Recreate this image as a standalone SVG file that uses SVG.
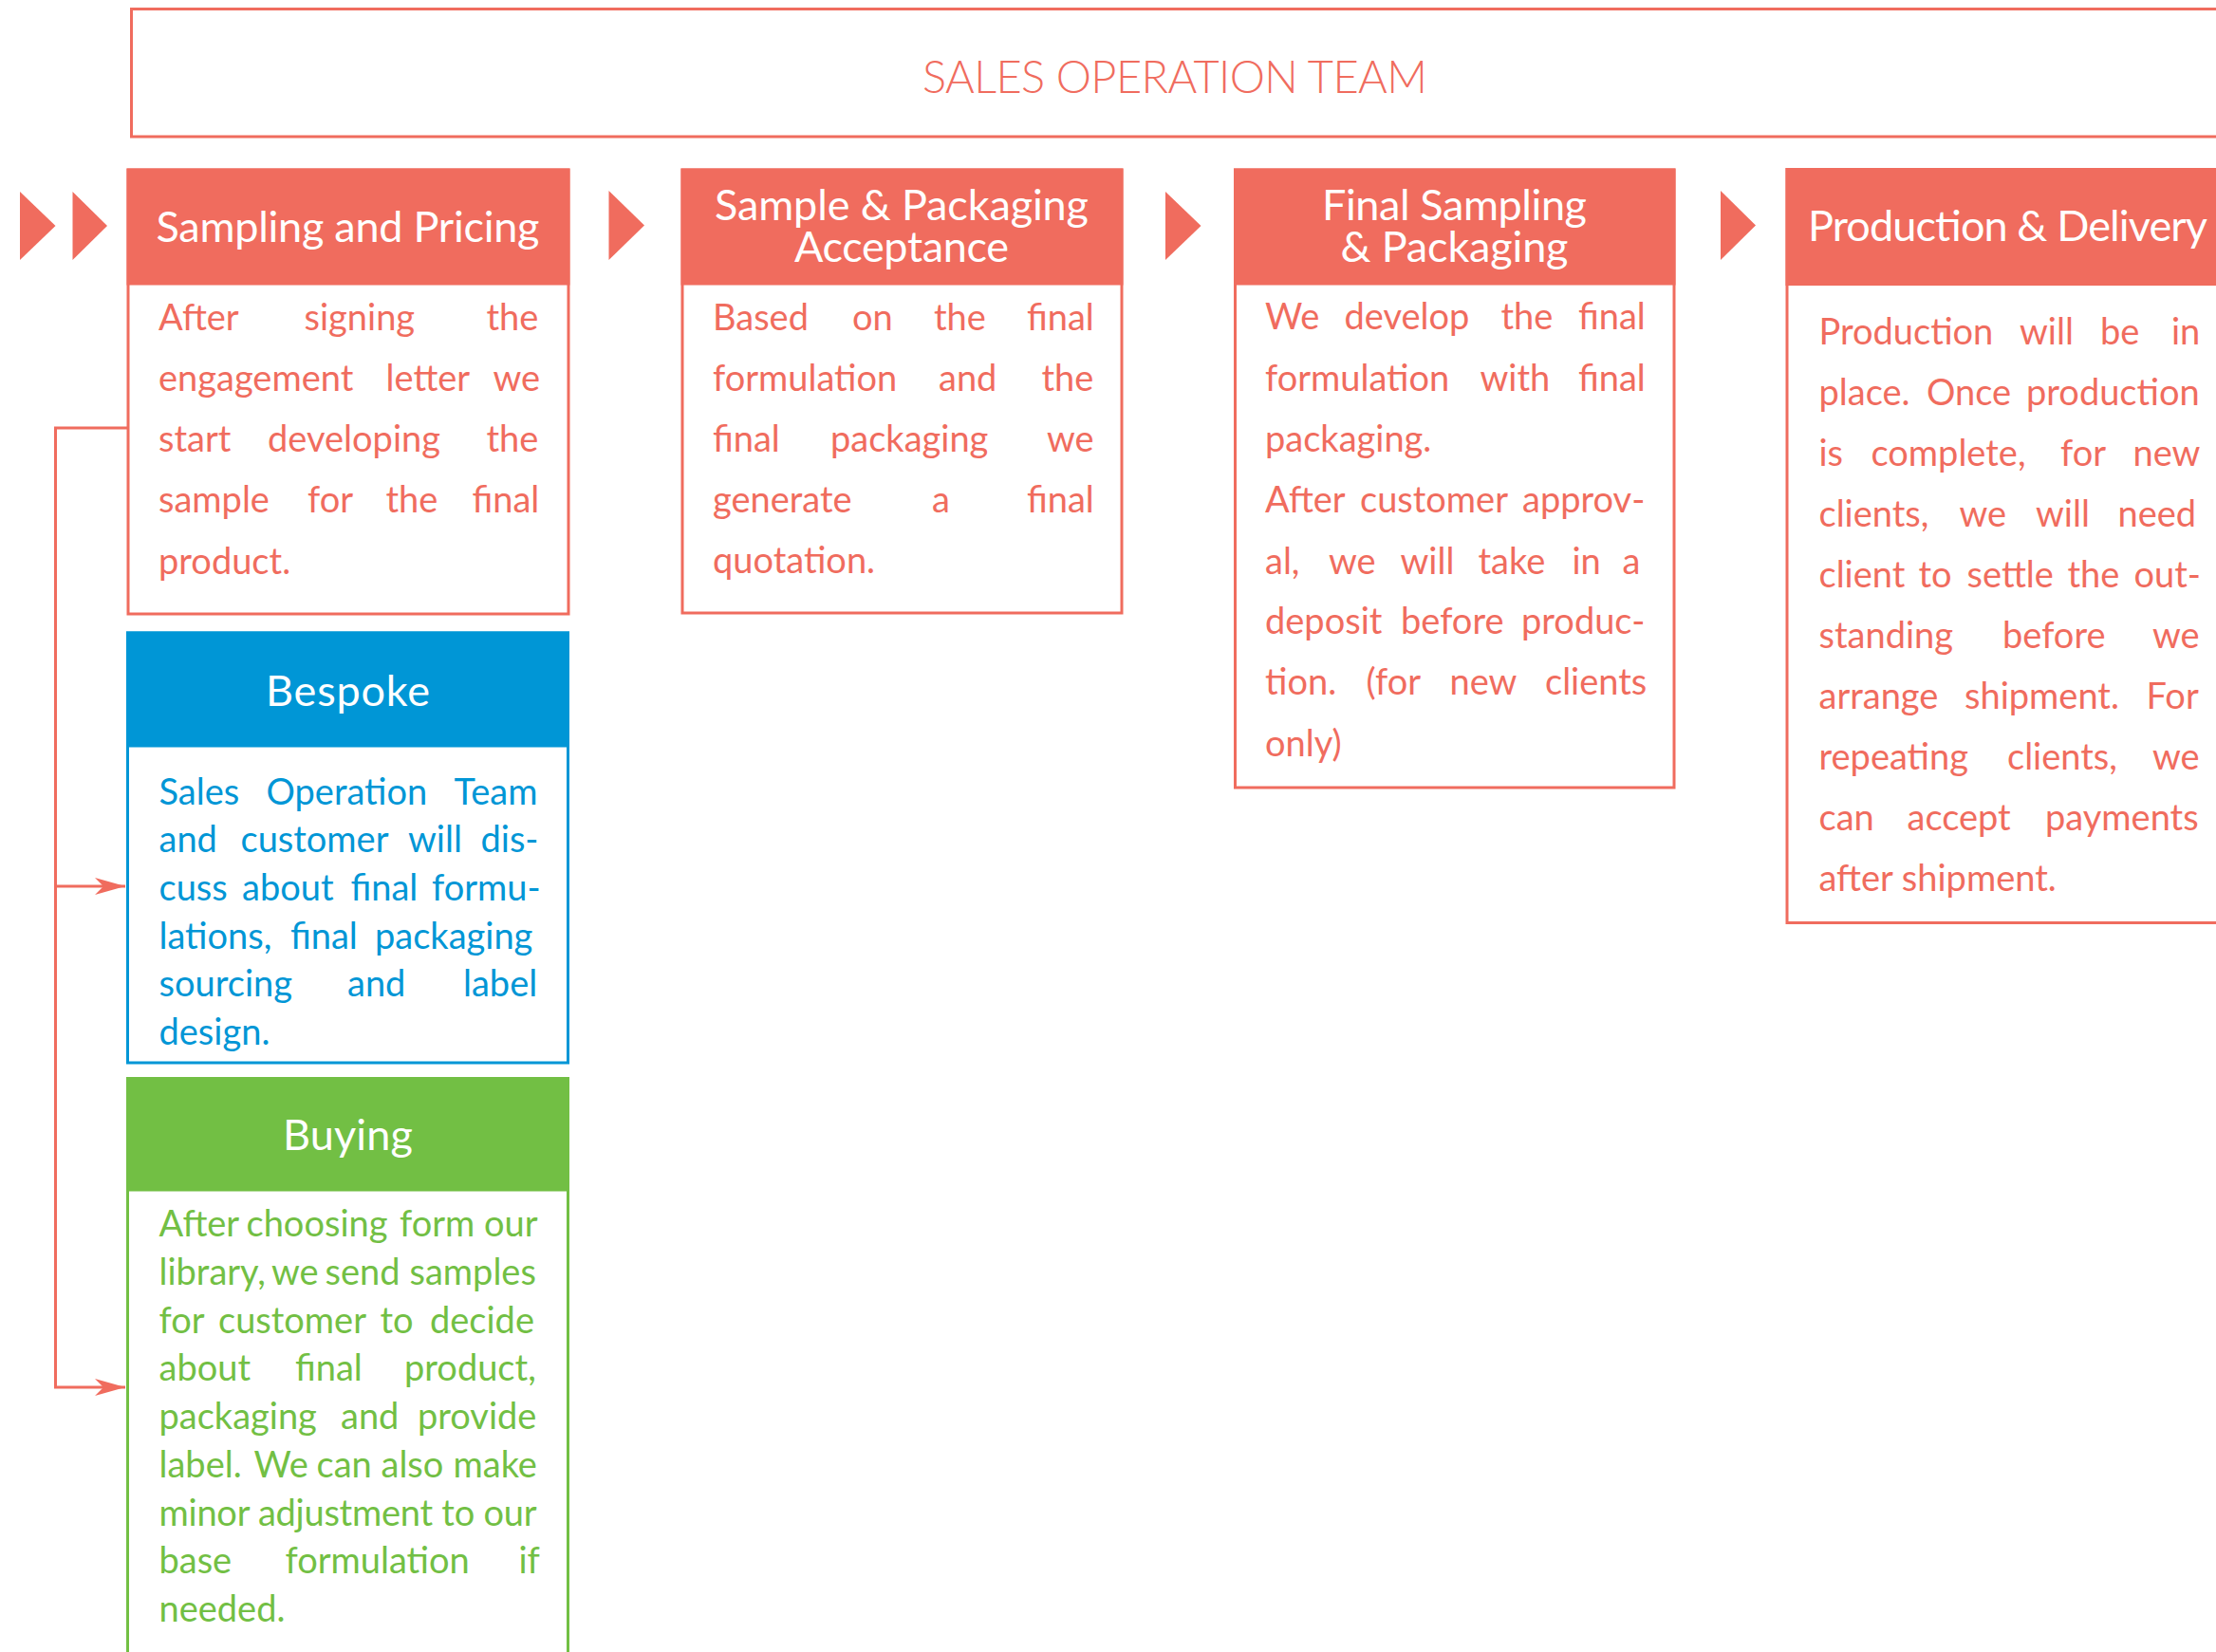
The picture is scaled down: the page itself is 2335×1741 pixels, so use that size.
<svg xmlns="http://www.w3.org/2000/svg" width="2335" height="1741" viewBox="0 0 2335 1741">
<style>
text { font-family: Lato, "Liberation Sans", sans-serif; }
.hd { font-size: 45px; fill: #ffffff; text-anchor: middle; }
.bd { font-size: 38px; }
.r { fill: #F06C5E; }
.b { fill: #0096D6; }
.g { fill: #72BF44; }
.box { fill: #ffffff; stroke-width: 3; }
.sr { stroke: #F06C5E; }
.sb { stroke: #0096D6; }
.sg { stroke: #72BF44; }
.conn { fill: none; stroke: #F06C5E; stroke-width: 3; }
.tri { fill: #F06C5E; }
</style>
<defs>
<marker id="arr" markerUnits="userSpaceOnUse" viewBox="0 0 32 18" refX="32" refY="9" markerWidth="32" markerHeight="18" orient="auto">
<path d="M0,0 L32,9 L0,18 L9,9 Z" fill="#F06C5E"/>
</marker>
</defs>
<rect width="2335" height="1741" fill="#ffffff"/>

<g id="team">
<rect class="box sr" x="138.5" y="9.5" width="2300" height="134.5"/>
<text class="r" x="1238" y="98" font-size="47" font-weight="300" text-anchor="middle" textLength="532" lengthAdjust="spacing">SALES OPERATION TEAM</text>
</g>

<g id="connectors">
<polygon class="tri" points="21,202 58.5,238 21,274"/>
<polygon class="tri" points="76.5,202 113,238 76.5,274"/>
<polygon class="tri" points="641.5,201 679,237.5 641.5,274"/>
<polygon class="tri" points="1228,202 1265.5,238 1228,274"/>
<polygon class="tri" points="1813,201 1850,237.5 1813,274"/>
<path class="conn" d="M134,451 H58.5 V1462 H132" marker-end="url(#arr)"/>
<path class="conn" d="M58.5,934 H132" marker-end="url(#arr)"/>
</g>

<g id="sampling-pricing">
<rect class="box sr" x="135" y="179" width="464" height="468"/>
<rect class="r" x="133.5" y="177.5" width="467" height="123"/>
<text class="hd" x="366.5" y="255" textLength="404" lengthAdjust="spacing">Sampling and Pricing</text>
<text class="bd r" y="348"><tspan x="167">After</tspan><tspan x="320.5">signing</tspan><tspan x="512.5">the</tspan></text>
<text class="bd r" y="412"><tspan x="167">engagement</tspan><tspan x="406.5">letter</tspan><tspan x="519.5">we</tspan></text>
<text class="bd r" y="476"><tspan x="167">start</tspan><tspan x="282">developing</tspan><tspan x="512.5">the</tspan></text>
<text class="bd r" y="540"><tspan x="167">sample</tspan><tspan x="324">for</tspan><tspan x="406.5">the</tspan><tspan x="497.5">final</tspan></text>
<text class="bd r" y="604.5"><tspan x="167">product.</tspan></text>
</g>

<g id="sample-packaging-acceptance">
<rect class="box sr" x="719" y="179" width="463" height="467"/>
<rect class="r" x="717.5" y="177.5" width="466" height="123"/>
<text class="hd"><tspan x="950" y="232" textLength="394" lengthAdjust="spacing">Sample &amp; Packaging</tspan><tspan x="950" y="276" textLength="226" lengthAdjust="spacing">Acceptance</tspan></text>
<text class="bd r" y="347.5"><tspan x="751">Based</tspan><tspan x="898">on</tspan><tspan x="984">the</tspan><tspan x="1082">final</tspan></text>
<text class="bd r" y="412"><tspan x="751">formulation</tspan><tspan x="989">and</tspan><tspan x="1097.5">the</tspan></text>
<text class="bd r" y="476"><tspan x="751">final</tspan><tspan x="875">packaging</tspan><tspan x="1103">we</tspan></text>
<text class="bd r" y="540"><tspan x="751">generate</tspan><tspan x="982">a</tspan><tspan x="1082">final</tspan></text>
<text class="bd r" y="604"><tspan x="751">quotation.</tspan></text>
</g>

<g id="final-sampling-packaging">
<rect class="box sr" x="1301.5" y="179" width="462.5" height="651"/>
<rect class="r" x="1300" y="177.5" width="465.5" height="123"/>
<text class="hd"><tspan x="1532.5" y="232" textLength="279" lengthAdjust="spacing">Final Sampling</tspan><tspan x="1532.5" y="276" textLength="240" lengthAdjust="spacing">&amp; Packaging</tspan></text>
<text class="bd r" y="347"><tspan x="1333">We</tspan><tspan x="1416.5">develop</tspan><tspan x="1581.5">the</tspan><tspan x="1663">final</tspan></text>
<text class="bd r" y="411.5"><tspan x="1333">formulation</tspan><tspan x="1559.5">with</tspan><tspan x="1663">final</tspan></text>
<text class="bd r" y="475.5"><tspan x="1333">packaging.</tspan></text>
<text class="bd r" y="540"><tspan x="1333">After</tspan><tspan x="1433">customer</tspan><tspan x="1604">approv-</tspan></text>
<text class="bd r" y="604.5"><tspan x="1333">al,</tspan><tspan x="1400">we</tspan><tspan x="1475.5">will</tspan><tspan x="1557.5">take</tspan><tspan x="1656.5">in</tspan><tspan x="1709.5">a</tspan></text>
<text class="bd r" y="668"><tspan x="1333">deposit</tspan><tspan x="1476">before</tspan><tspan x="1603">produc-</tspan></text>
<text class="bd r" y="732"><tspan x="1333">tion.</tspan><tspan x="1439.5">(for</tspan><tspan x="1527.5">new</tspan><tspan x="1628">clients</tspan></text>
<text class="bd r" y="796.5"><tspan x="1333">only)</tspan></text>
</g>

<g id="production-delivery">
<rect class="box sr" x="1883" y="178.5" width="600" height="794"/>
<rect class="r" x="1881.5" y="177" width="600" height="124"/>
<text class="hd" x="1905" y="253.5" style="text-anchor:start" textLength="421" lengthAdjust="spacing">Production &amp; Delivery</text>
<text class="bd r" y="362.5"><tspan x="1916.5">Production</tspan><tspan x="2128">will</tspan><tspan x="2213">be</tspan><tspan x="2288">in</tspan></text>
<text class="bd r" y="426.5"><tspan x="1916.5">place.</tspan><tspan x="2030">Once</tspan><tspan x="2135">production</tspan></text>
<text class="bd r" y="490.6"><tspan x="1916.5">is</tspan><tspan x="1971.5">complete,</tspan><tspan x="2171">for</tspan><tspan x="2247.5">new</tspan></text>
<text class="bd r" y="554.6"><tspan x="1916.5">clients,</tspan><tspan x="2064.5">we</tspan><tspan x="2145">will</tspan><tspan x="2231.5">need</tspan></text>
<text class="bd r" y="618.7"><tspan x="1916.5">client</tspan><tspan x="2021.5">to</tspan><tspan x="2072.5">settle</tspan><tspan x="2178.5">the</tspan><tspan x="2248.5">out-</tspan></text>
<text class="bd r" y="682.7"><tspan x="1916.5">standing</tspan><tspan x="2110">before</tspan><tspan x="2268">we</tspan></text>
<text class="bd r" y="746.8"><tspan x="1916.5">arrange</tspan><tspan x="2070">shipment.</tspan><tspan x="2261.5">For</tspan></text>
<text class="bd r" y="810.8"><tspan x="1916.5">repeating</tspan><tspan x="2115">clients,</tspan><tspan x="2268">we</tspan></text>
<text class="bd r" y="874.9"><tspan x="1916.5">can</tspan><tspan x="2009.5">accept</tspan><tspan x="2155">payments</tspan></text>
<text class="bd r" y="939"><tspan x="1916.5">after shipment.</tspan></text>
</g>

<g id="bespoke">
<rect class="box sb" x="134.5" y="667" width="464" height="453"/>
<rect class="b" x="133" y="665.5" width="467" height="122"/>
<text class="hd" x="366.5" y="744" font-size="46" textLength="173" lengthAdjust="spacing">Bespoke</text>
<text class="bd b" y="847.5"><tspan x="167.5">Sales</tspan><tspan x="280.5">Operation</tspan><tspan x="478.5">Team</tspan></text>
<text class="bd b" y="898.2"><tspan x="167.5">and</tspan><tspan x="253.5">customer</tspan><tspan x="430">will</tspan><tspan x="506.5">dis-</tspan></text>
<text class="bd b" y="948.9"><tspan x="167.5">cuss</tspan><tspan x="255">about</tspan><tspan x="369.5">final</tspan><tspan x="455">formu-</tspan></text>
<text class="bd b" y="999.6"><tspan x="167.5">lations,</tspan><tspan x="306">final</tspan><tspan x="395">packaging</tspan></text>
<text class="bd b" y="1050.3"><tspan x="167.5">sourcing</tspan><tspan x="366">and</tspan><tspan x="488">label</tspan></text>
<text class="bd b" y="1101"><tspan x="167.5">design.</tspan></text>
</g>

<g id="buying">
<rect class="box sg" x="134.5" y="1136.5" width="464" height="700"/>
<rect class="g" x="133" y="1135" width="467" height="120.5"/>
<text class="hd" x="366.5" y="1212" font-size="46" textLength="137" lengthAdjust="spacing">Buying</text>
<text class="bd g" y="1303.3"><tspan x="167.5">After</tspan><tspan x="259.5">choosing</tspan><tspan x="421">form</tspan><tspan x="510">our</tspan></text>
<text class="bd g" y="1354"><tspan x="167.5">library,</tspan><tspan x="286">we</tspan><tspan x="342.5">send</tspan><tspan x="431.5">samples</tspan></text>
<text class="bd g" y="1404.7"><tspan x="167.5">for</tspan><tspan x="230">customer</tspan><tspan x="400.5">to</tspan><tspan x="453">decide</tspan></text>
<text class="bd g" y="1455.4"><tspan x="167.5">about</tspan><tspan x="311">final</tspan><tspan x="426">product,</tspan></text>
<text class="bd g" y="1506.1"><tspan x="167.5">packaging</tspan><tspan x="359">and</tspan><tspan x="440">provide</tspan></text>
<text class="bd g" y="1556.8"><tspan x="167.5">label.</tspan><tspan x="267.5">We</tspan><tspan x="333.5">can</tspan><tspan x="401.5">also</tspan><tspan x="477.5">make</tspan></text>
<text class="bd g" x="167.5" y="1607.5" textLength="398" lengthAdjust="spacing">minor adjustment to our</text>
<text class="bd g" y="1658.2"><tspan x="167.5">base</tspan><tspan x="300.5">formulation</tspan><tspan x="546.5">if</tspan></text>
<text class="bd g" y="1708.9"><tspan x="167.5">needed.</tspan></text>
</g>
</svg>
